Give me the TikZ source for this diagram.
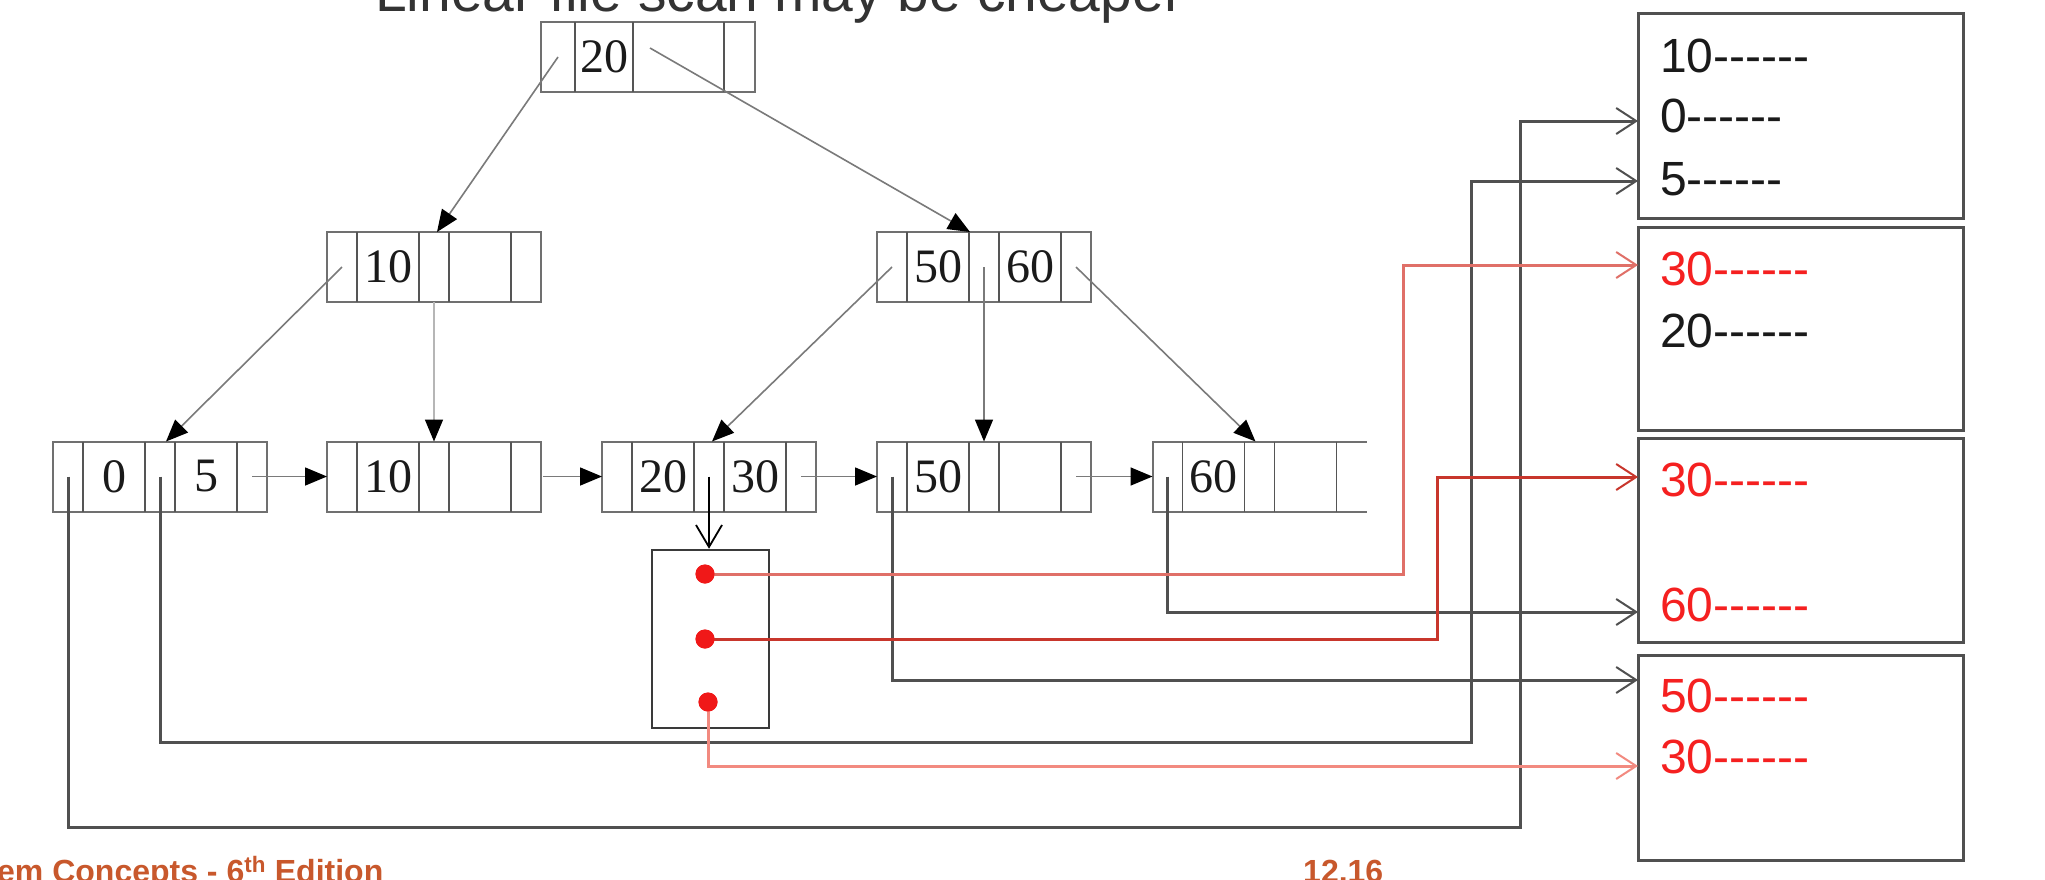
\documentclass[tikz,border=0pt]{standalone}
\usepackage{fontspec}
\setmainfont{Liberation Serif}
\newfontfamily\sansfam{Liberation Sans}
\usetikzlibrary{arrows.meta}

\definecolor{framec}{HTML}{707070}
\definecolor{divc}{HTML}{555555}
\definecolor{edgec}{HTML}{7A7A7A}
\definecolor{keyc}{HTML}{1A1A1A}
\definecolor{boxc}{HTML}{505050}
\definecolor{wirec}{HTML}{505050}
\definecolor{bucketc}{HTML}{3A3A3A}
\definecolor{dotred}{HTML}{F01818}
\definecolor{recred}{HTML}{F52020}
\definecolor{redA}{HTML}{E07068}
\definecolor{redB}{HTML}{C8362C}
\definecolor{redC}{HTML}{F28A80}
\definecolor{footc}{HTML}{C8582C}
\definecolor{titlec}{HTML}{333333}

% six hyphens, kept apart so they never join into dashes
\newcommand\hy{-\kern0pt-\kern0pt-\kern0pt-\kern0pt-\kern0pt-}

% one B+-tree node: name, centre x, centre y, first key, second key
\newcommand\bplusnode[5]{%
  \node[tnode] (#1) at (#2,#3) {};
  \foreach \d in {30,92,122,184}{\draw[divline] ([xshift=\d pt]#1.north west) -- ([xshift=\d pt]#1.south west);}
  \node[key] (#1-k1) at ([xshift=61pt]#1.west) {#4};
  \if\relax\detokenize{#5}\relax\else\node[key] (#1-k2) at ([xshift=153pt]#1.west) {#5};\fi
  \coordinate (#1-p1) at ([xshift=15pt]#1.west);
  \coordinate (#1-p2) at ([xshift=107pt]#1.west);
  \coordinate (#1-p3) at ([xshift=199pt]#1.west);
}

\begin{document}
\begin{tikzpicture}[x=1pt,y=-1pt,
  tnode/.style={draw=framec, line width=2pt, minimum width=214pt, minimum height=70pt, inner sep=0pt, outer sep=0pt},
  divline/.style={draw=divc, line width=1.8pt},
  key/.style={font=\fontsize{48}{48}\selectfont, inner sep=0pt, text=keyc},
  tedge/.style={draw=edgec, line width=1.6pt, -{Triangle[length=22pt,width=18pt,color=black]}},
  recbox/.style={draw=boxc, line width=3pt, minimum width=325pt, inner sep=0pt, outer sep=0pt},
  row/.style={anchor=west, inner sep=0pt, text=keyc, font=\sansfam\fontsize{48}{48}\selectfont},
  wire/.style={draw=wirec, line width=3pt, -{Straight Barb[length=20pt,width=26pt,line width=2pt]}},
  redwire/.style={line width=3pt, -{Straight Barb[length=20pt,width=26pt,line width=2pt]}},
  reddot/.style={circle, fill=dotred, minimum size=19pt, inner sep=0pt},
]
\useasboundingbox (0,0) rectangle (2045,879);
\clip (0,0) rectangle (2045,879);
\fill[white] (0,0) rectangle (2045,879);

% heading and footer of the slide
\node[anchor=base west, inner sep=0pt, text=titlec, font=\sansfam\fontsize{57}{57}\selectfont] (head) at (375,11) {Linear file scan may be cheaper};
\node[anchor=base west, inner sep=0pt, text=footc, font=\sansfam\bfseries\fontsize{32}{32}\selectfont] (foot) at (-3,882) {em Concepts - 6\textsuperscript{th} Edition};
\node[anchor=base west, inner sep=0pt, text=footc, font=\sansfam\bfseries\fontsize{32}{32}\selectfont] (pageno) at (1303,882) {12.16};

% root
\node[tnode] (root) at (648,57) {};
\foreach \d in {34,92,183}{\draw[divline] ([xshift=\d pt]root.north west) -- ([xshift=\d pt]root.south west);}
\node[key] (root-k1) at (604,57) {20};
\coordinate (root-p1) at (558,57);
\coordinate (root-p2) at (650,48);

% inner level
\bplusnode{inL}{434}{267}{10}{}
\bplusnode{inR}{984}{267}{50}{60}

% leaves
\bplusnode{lfA}{160}{476.5}{0}{5}
\bplusnode{lfB}{434}{476.5}{10}{}
\bplusnode{lfC}{709}{476.5}{20}{30}
\bplusnode{lfD}{984}{476.5}{50}{}
\node[tnode, draw=none] (lfE) at (1259.5,476.5) {};
\draw[draw=framec, line width=2pt] (lfE.north east) -- (lfE.north west) -- (lfE.south west) -- (lfE.south east);
\foreach \d in {30,92,122,184}{\draw[divline] ([xshift=\d pt]lfE.north west) -- ([xshift=\d pt]lfE.south west);}
\node[key] (lfE-k1) at ([xshift=61pt]lfE.west) {60};
\coordinate (lfE-p1) at ([xshift=15pt]lfE.west);

% tree pointers
\draw[tedge] (root-p1) -- ([xshift=110pt]inL.north west);
\draw[tedge] (root-p2) -- ([xshift=93pt]inR.north west);
\draw[tedge] (inL-p1) -- ([xshift=113pt]lfA.north west);
\draw[tedge, draw=edgec!55] (inL-p2 |- inL.south) -- (inL-p2 |- lfB.north);
\draw[tedge] (inR-p1) -- ([xshift=110pt]lfC.north west);
\draw[tedge] (inR-p2) -- (inR-p2 |- lfD.north);
\draw[tedge] (inR-p3) -- ([xshift=103pt]lfE.north west);

% leaf chain
\draw[tedge] (lfA-p3) -- (lfA-p3 -| lfB.west);
\draw[tedge] ([xshift=2pt]lfB.east) -- (lfC.west);
\draw[tedge] (lfC-p3) -- (lfD.west);
\draw[tedge] (lfD-p3) -- (lfE.west);

% bucket of record pointers
\node[draw=bucketc, line width=2.5pt, minimum width=117pt, minimum height=178pt, inner sep=0pt] (bucket) at (710.5,639) {};
\draw[draw=black, line width=1.8pt, -{Straight Barb[length=22pt,width=26pt,line width=1.8pt]}] (lfC-p2) -- (lfC-p2 |- bucket.north);

% record blocks
\node[recbox, minimum height=205pt] (recA) at (1800.5,115.5) {};
\node[recbox, minimum height=203pt] (recB) at (1800.5,328.5) {};
\node[recbox, minimum height=204pt] (recC) at (1800.5,540) {};
\node[recbox, minimum height=205pt] (recD) at (1800.5,757.5) {};

\node[row] (rA1) at (1660,56) {10\hy};
\node[row] (rA2) at (1660,116) {0\hy};
\node[row] (rA3) at (1660,179) {5\hy};
\node[row, text=recred] (rB1) at (1660,269) {30\hy};
\node[row] (rB2) at (1660,331) {20\hy};
\node[row, text=recred] (rC1) at (1660,480) {30\hy};
\node[row, text=recred] (rC2) at (1660,605) {60\hy};
\node[row, text=recred] (rD1) at (1660,696) {50\hy};
\node[row, text=recred] (rD2) at (1660,757) {30\hy};

% where the pointers enter the blocks
\coordinate (inA0) at (1638,121);
\coordinate (inA5) at (1638,181);
\coordinate (inB30) at (1638,265);
\coordinate (inC30) at (1638,477);
\coordinate (inC60) at (1638,612);
\coordinate (inD50) at (1638,680);
\coordinate (inD30) at (1638,766);

% bends of the routed pointers
\coordinate (bendA0) at (1520,827);
\coordinate (bendA5) at (1471,742);
\coordinate (bendB30) at (1403,265);
\coordinate (bendC30) at (1437,477);

% record pointers from the leaves
\draw[wire] (lfA-p1) |- (bendA0) |- (inA0);
\draw[wire] (lfA-p2) |- (bendA5) |- (inA5);
\draw[wire] (lfD-p1) |- (inD50);
\draw[wire] (lfE-p1) |- (inC60);

% record pointers from the bucket
\node[reddot] (d1) at (705,574) {};
\node[reddot] (d2) at (705,639) {};
\node[reddot] (d3) at (708,702) {};
\draw[redwire, draw=redA] (d1.center) -| (bendB30) -- (inB30);
\draw[redwire, draw=redB] (d2.center) -| (bendC30) -- (inC30);
\draw[redwire, draw=redC] (d3.center) |- (inD30);
\node[reddot] at (d1) {};
\node[reddot] at (d2) {};
\node[reddot] at (d3) {};
\end{tikzpicture}
\end{document}
